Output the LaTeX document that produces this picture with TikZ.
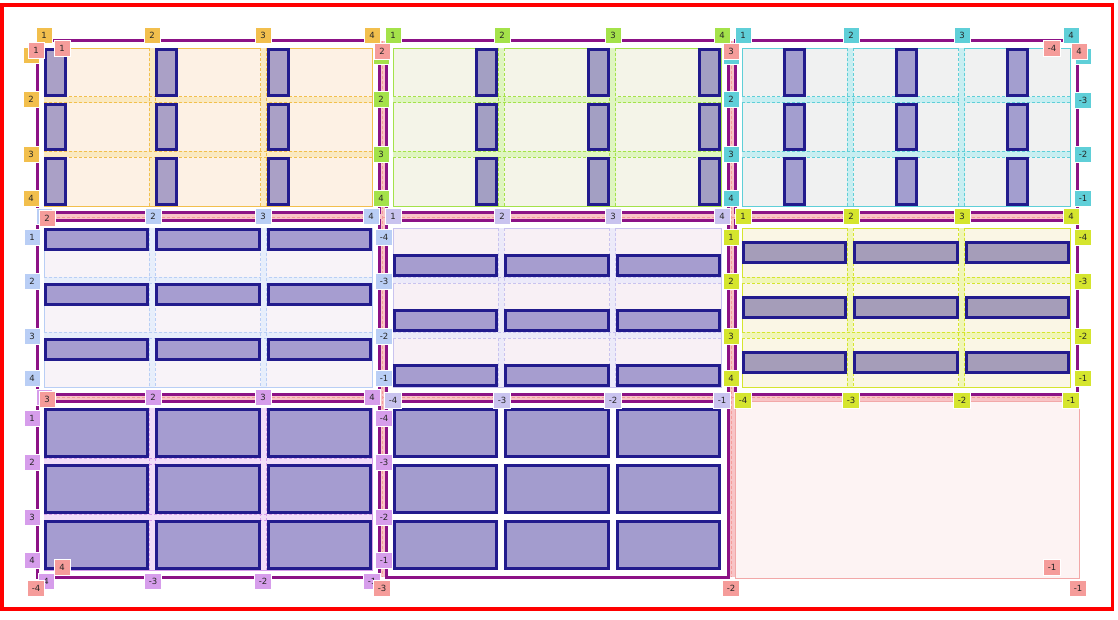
\documentclass[tikz,border=0pt]{standalone}
\usepackage{fontspec}
\setsansfont{DejaVu Sans}
\usepackage{xcolor}
\usetikzlibrary{positioning,calc}

\definecolor{framered}{HTML}{FF0000}
\definecolor{cellmag}{HTML}{8C1286}
\definecolor{gappink}{HTML}{F8C4C6}
\definecolor{outerpink}{HTML}{F59C9A}
\definecolor{orangeln}{HTML}{F2BF4D}
\definecolor{orangebg}{HTML}{FDF1E4}
\definecolor{greenln}{HTML}{A4E24A}
\definecolor{greenbg}{HTML}{F4F4E8}
\definecolor{cyanln}{HTML}{5FCFD8}
\definecolor{cyanbg}{HTML}{F0F1F1}
\definecolor{blueln}{HTML}{B9CEF5}
\definecolor{bluebg}{HTML}{F8F3F8}
\definecolor{lavln}{HTML}{C9C3EF}
\definecolor{lavbg}{HTML}{F8F0F5}
\definecolor{yelln}{HTML}{D5E52E}
\definecolor{yelbg}{HTML}{FAF6E5}
\definecolor{violn}{HTML}{D69DEB}
\definecolor{viobg}{HTML}{F7EEF8}
\definecolor{cellpink}{HTML}{FDF3F3}
\definecolor{cellpinkln}{HTML}{F2A8A8}
\definecolor{itemblue}{HTML}{221B8D}
\definecolor{itemA}{HTML}{AAA0C6}
\definecolor{itemB}{HTML}{A39FC3}
\definecolor{itemC}{HTML}{A39ECF}
\definecolor{itemD}{HTML}{A69DD0}
\definecolor{itemE}{HTML}{A69DCF}
\definecolor{itemF}{HTML}{A59DB9}
\definecolor{itemG}{HTML}{A59CD0}
\definecolor{itemH}{HTML}{A39CCE}

\tikzset{
  lbl/.style={fill=#1, draw=white, line width=0.8pt, inner xsep=4pt, inner ysep=0pt,
    minimum width=16pt, minimum height=16pt, text=black!85,
    font=\sffamily\fontsize{8.5}{9}\selectfont},
  item/.style={draw=itemblue, line width=3pt, fill=#1},
  gapline/.style={draw=#1, line width=0.6pt, dash pattern=on 3pt off 2pt},
  cellbox/.style={draw=cellmag, line width=3pt}
}

\begin{document}
\begin{tikzpicture}[x=1pt,y=-1pt]
    \useasboundingbox (0,0) rectangle (1118,620);

    % Page frame
    \draw [line width=3.5pt, framered] (1.75,5) rectangle (1112.5,609);

    % Outer grid gaps
    \fill [gappink] (379,41) rectangle (386,577);
    \fill [gappink] (728,41) rectangle (735,577);
    \fill [gappink] (37,213) rectangle (1077,221);
    \fill [gappink] (37,394) rectangle (1077,401);
    \draw [gapline=outerpink] (382.5,41) -- (382.5,577) (731.5,41) -- (731.5,577);
    \draw [gapline=outerpink] (37,217) -- (1077,217) (37,397.5) -- (1077,397.5);

    % Nested grids with their items
    \foreach \cc/\rr/\lc/\bg/\itf/\iw/\ih/\ax/\ay in {
        0/0/orangeln/orangebg/itemA/23/-1/0/0,
        1/0/greenln/greenbg/itemB/23/-1/1/0,
        2/0/cyanln/cyanbg/itemC/23/-1/0.5/0,
        0/1/blueln/bluebg/itemD/-1/23/0/0,
        1/1/lavln/lavbg/itemE/-1/23/0/1,
        2/1/yelln/yelbg/itemF/-1/23/0/0.5,
        0/2/violn/viobg/itemG/-1/-1/0/0,
        1/2/white/white/itemH/-1/-1/0/0}{
      \pgfmathsetmacro\xa{37+349*\cc}
      \pgfmathsetmacro\xb{\xa+342}
      \pgfmathsetmacro\ya{{41,221,401}[\rr]}
      \pgfmathsetmacro\yb{{213,394,577}[\rr]}
      \pgfmathsetmacro\tw{(\xb-\xa-26)/3}
      \pgfmathsetmacro\th{(\yb-\ya-26)/3}
      \pgfmathsetmacro\itw{\iw<0 ? \tw : \iw}
      \pgfmathsetmacro\ith{\ih<0 ? \th : \ih}
      \draw [fill=\bg, draw=\lc, line width=0.8pt] (\xa+7,\ya+7) rectangle (\xb-7,\yb-7);
      \foreach \g in {1,2}{
        \pgfmathsetmacro\gx{\xa+7+\g*\tw+(\g-1)*6}
        \pgfmathsetmacro\gy{\ya+7+\g*\th+(\g-1)*6}
        \fill [\lc!35] (\gx,\ya+7) rectangle (\gx+6,\yb-7);
        \fill [\lc!35] (\xa+7,\gy) rectangle (\xb-7,\gy+6);
        \draw [gapline=\lc] (\gx,\ya+7) -- (\gx,\yb-7) (\gx+6,\ya+7) -- (\gx+6,\yb-7);
        \draw [gapline=\lc] (\xa+7,\gy) -- (\xb-7,\gy) (\xa+7,\gy+6) -- (\xb-7,\gy+6);
      }
      \foreach \i in {0,1,2}{
        \foreach \j in {0,1,2}{
          \pgfmathsetmacro\ix{\xa+7+\i*(\tw+6)+\ax*(\tw-\itw)}
          \pgfmathsetmacro\iy{\ya+7+\j*(\th+6)+\ay*(\th-\ith)}
          \draw [item=\itf] (\ix+1.5,\iy+1.5) rectangle (\ix+\itw-1.5,\iy+\ith-1.5);
        }
      }
      \draw [cellbox] (\xa,\ya) rectangle (\xb,\yb);
    }

    % Empty outer cell
    \draw [fill=cellpink, draw=cellpinkln, line width=0.8pt] (735,401) rectangle (1079,578);

    % Line numbers of the nested grids (covered ones left blank)
    \foreach \x/\y/\t [count=\n] in {44/35/1, 152/35/2, 263/35/3, 372/35/4,
        31/55/{}, 31/99/2, 31/154/3, 31/198/4}
      \node [lbl=orangeln] (orange-\n) at (\x,\y) {\t};
    \foreach \x/\y/\t [count=\n] in {393/35/1, 502/35/2, 613/35/3, 722/35/4,
        381/56/{}, 381/99/2, 381/154/3, 381/198/4}
      \node [lbl=greenln] (green-\n) at (\x,\y) {\t};
    \foreach \x/\y/\t [count=\n] in {743/35/1, 851/35/2, 962/35/3, 1071/35/4,
        731/56/{}, 731/99/2, 731/154/3, 731/198/4,
        1083/56/{}, 1083/100/-3, 1083/154/-2, 1083/198/-1}
      \node [lbl=cyanln] (cyan-\n) at (\x,\y) {\t};
    \foreach \x/\y/\t [count=\n] in {44/216/{}, 153/216/2, 263/216/3, 371/216/4,
        32/237/1, 32/281/2, 32/336/3, 32/378/4,
        384/237/-4, 384/281/-3, 384/336/-2, 384/378/-1}
      \node [lbl=blueln] (blue-\n) at (\x,\y) {\t};
    \foreach \x/\y/\t [count=\n] in {393/216/1, 502/216/2, 613/216/3, 722/216/4,
        393/400/-4, 502/400/-3, 613/400/-2, 722/400/-1}
      \node [lbl=lavln] (lav-\n) at (\x,\y) {\t};
    \foreach \x/\y/\t [count=\n] in {743/216/1, 851/216/2, 962/216/3, 1071/216/4,
        731/237/1, 731/281/2, 731/336/3, 731/378/4,
        1083/237/-4, 1083/281/-3, 1083/336/-2, 1083/378/-1,
        743/400/-4, 851/400/-3, 962/400/-2, 1071/400/-1}
      \node [lbl=yelln] (yel-\n) at (\x,\y) {\t};
    \foreach \x/\y/\t [count=\n] in {44/397/{}, 153/397/2, 263/397/3, 372/397/4,
        32/418/1, 32/462/2, 32/517/3, 32/560/4,
        384/418/-4, 384/462/-3, 384/517/-2, 384/560/-1,
        46/581/4, 153/581/-3, 263/581/-2, 372/581/-1}
      \node [lbl=violn] (vio-\n) at (\x,\y) {\t};

    % Line numbers of the outer grid
    \foreach \x/\y/\t [count=\n] in {36/50/1, 62/48/1, 382/51/2, 731/51/3, 1079/51/4,
        1052/48/-4, 47/218/2, 47/399/3, 62/567/4, 1052/567/-1,
        36/588/-4, 382/588/-3, 731/588/-2, 1078/588/-1}
      \node [lbl=outerpink] (outer-\n) at (\x,\y) {\t};
\end{tikzpicture}
\end{document}
